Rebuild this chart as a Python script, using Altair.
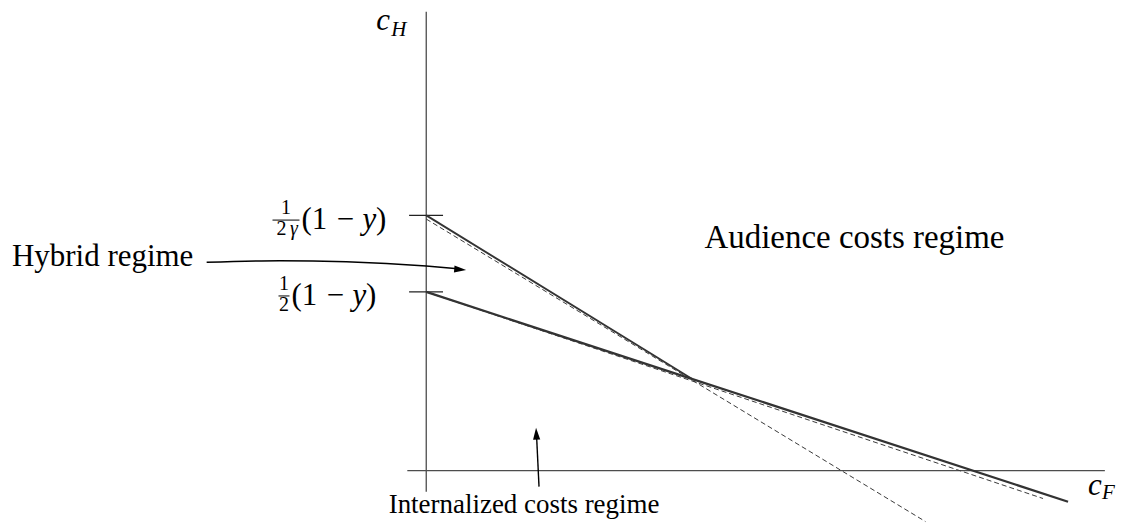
import altair as alt
import pandas as pd

# ---- model values (axes: c_F horizontal, c_H vertical) ----
gamma = 0.70
one_minus_y = 1.0
cH_high = one_minus_y / (2 * gamma)   # 1/(2γ)(1-y)
cH_low = one_minus_y / 2              # 1/2 (1-y)

# solid regime boundaries
steep_x = [0.0, 0.743]
steep_y = [cH_high, 0.257]
shallow_x = [0.0, 0.743, 1.796]
shallow_y = [cH_low, 0.257, -0.087]

# dashed linear extensions
steep_dash_x = [0.0, 1.397]
steep_dash_y = [0.704, -0.1425]
shallow_dash_x = [0.0, 1.726]
shallow_dash_y = [cH_low, -0.078]

# y-axis tick marks
tick_values = [cH_high, cH_low]

# annotation arrows
hybrid_arrow_x = [-0.6145, -0.4106, -0.2235, 0.0, 0.0810]
hybrid_arrow_y = [0.5830, 0.5874, 0.5846, 0.5726, 0.5656]
internal_arrow_x = [0.3156, 0.3087]
internal_arrow_y = [-0.0447, 0.0978]

# ---- geometry ----
W, H = 1112, 515
U = 358.0            # pixels per unit
ox, oy = 419, 463    # origin inside plot area
xsc = alt.Scale(domain=[-ox / U, (W - ox) / U], nice=False, zero=False)
ysc = alt.Scale(domain=[-(H - oy) / U, oy / U], nice=False, zero=False)

FONT = "Liberation Serif"
INK = "#000000"
LINE = "#333333"
AX = "#4d4d4d"
DASH = "#3a3a3a"


def enc_xy(**extra):
    return dict(
        x=alt.X("x:Q", scale=xsc, axis=None),
        y=alt.Y("y:Q", scale=ysc, axis=None),
        **extra,
    )


def line_layer(xs, ys, color, width, dash=None, interp="linear"):
    df = pd.DataFrame({"x": xs, "y": ys, "o": list(range(len(xs)))})
    kw = dict(color=color, strokeWidth=width, interpolate=interp, strokeCap="butt")
    if dash:
        kw["strokeDash"] = dash
    return alt.Chart(df).mark_line(**kw).encode(**enc_xy(order="o:Q"))


def seg_layer(x, x2, y, y2, color, width):
    df = pd.DataFrame({"x": [x], "x2": [x2], "y": [y], "y2": [y2]})
    return alt.Chart(df).mark_rule(color=color, strokeWidth=width).encode(
        **enc_xy(x2="x2:Q", y2="y2:Q")
    )


def text_layer(t, x, y, size, italic=False, align="left"):
    df = pd.DataFrame({"x": [x], "y": [y], "t": [t]})
    kw = dict(font=FONT, fontSize=size, align=align, baseline="alphabetic", color=INK)
    if italic:
        kw["fontStyle"] = "italic"
    return alt.Chart(df).mark_text(**kw).encode(**enc_xy(text="t:N"))


def head_layer(x, y, shape, angle, size=144):
    df = pd.DataFrame({"x": [x], "y": [y]})
    return alt.Chart(df).mark_point(
        shape=shape, size=size, filled=True, color=INK, opacity=1, angle=angle, strokeWidth=0
    ).encode(**enc_xy())


layers = []
# axes
layers.append(seg_layer(0, 0, -0.059, 1.284, AX, 1.3))
layers.append(seg_layer(-0.053, 1.899, 0, 0, AX, 1.3))
# ticks
for tv in tick_values:
    layers.append(seg_layer(-0.048, 0.047, tv, tv, "#222222", 1.3))
# dashed extensions
layers.append(line_layer(steep_dash_x, steep_dash_y, DASH, 1.0, dash=[5, 3]))
layers.append(line_layer(shallow_dash_x, shallow_dash_y, DASH, 1.0, dash=[5, 3]))
# solid boundaries
layers.append(line_layer(steep_x, steep_y, LINE, 1.9))
layers.append(line_layer(shallow_x, shallow_y, LINE, 2.3))
# arrows
layers.append(line_layer(hybrid_arrow_x, hybrid_arrow_y, INK, 1.4, interp="monotone"))
layers.append(head_layer(0.0950, 0.5628, "M-1,-0.6L1,0L-1,0.6Z", 5))
layers.append(line_layer(internal_arrow_x, internal_arrow_y, INK, 1.4))
layers.append(head_layer(0.3081, 0.1034, "M-0.6,1L0,-1L0.6,1Z", 357))

# regime labels
layers.append(text_layer("Hybrid regime", -1.1592, 0.5726, 31))
layers.append(text_layer("Audience costs regime", 1.1983, 0.6229, 33, align="center"))
layers.append(text_layer("Internalized costs regime", 0.2737, -0.1173, 27, align="center"))

# axis titles
layers.append(text_layer("c", -0.1397, 1.2318, 31, italic=True))
layers.append(text_layer("H", -0.0978, 1.2151, 21, italic=True))
layers.append(text_layer("c", 1.8520, -0.0670, 31, italic=True))
layers.append(text_layer("F", 1.8911, -0.0782, 21, italic=True))

# tick label: 1/(2γ)(1 − y)
layers.append(text_layer("1", -0.3925, 0.7179, 20, align="center"))
layers.append(seg_layer(-0.4302, -0.3547, 0.7011, 0.7011, INK, 1.0))
layers.append(text_layer("2", -0.4050, 0.6592, 20, align="center"))
layers.append(text_layer("γ", -0.3700, 0.6592, 20, italic=True, align="center"))
layers.append(text_layer("(1", -0.3492, 0.6760, 31))
layers.append(text_layer("−", -0.2263, 0.6760, 31, align="center"))
layers.append(text_layer("y", -0.1592, 0.6760, 31, italic=True, align="center"))
layers.append(text_layer(")", -0.1117, 0.6760, 31, align="right"))

# tick label: 1/2(1 − y)
layers.append(text_layer("1", -0.3980, 0.5056, 20, align="center"))
layers.append(seg_layer(-0.4134, -0.3827, 0.4888, 0.4888, INK, 1.0))
layers.append(text_layer("2", -0.3980, 0.4469, 20, align="center"))
layers.append(text_layer("(1", -0.3771, 0.4637, 31))
layers.append(text_layer("−", -0.2542, 0.4637, 31, align="center"))
layers.append(text_layer("y", -0.1872, 0.4637, 31, italic=True, align="center"))
layers.append(text_layer(")", -0.1397, 0.4637, 31, align="right"))

chart = (
    alt.layer(*layers)
    .properties(width=W, height=H, padding=0, autosize=alt.AutoSizeParams(type="none"))
    .configure_view(stroke=None)
)

chart.save("out.html", embed_options={"renderer": "svg", "actions": False})
